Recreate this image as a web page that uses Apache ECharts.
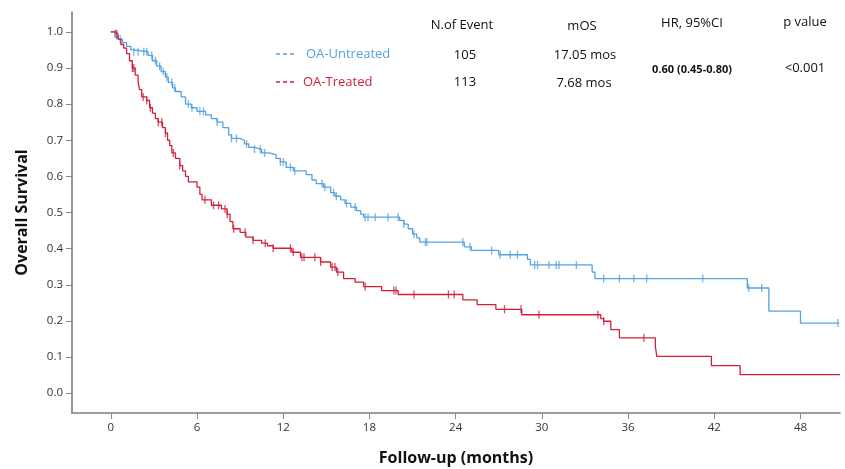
<!DOCTYPE html>
<html>
<head>
<meta charset="utf-8">
<script src="https://cdn.jsdelivr.net/npm/echarts@6/dist/echarts.min.js"></script>
<style>
  html, body { margin: 0; padding: 0; background: #fff; }
  #chart { width: 845px; height: 469px; }
</style>
</head>
<body>
<div id="chart"></div>
<script>
// KM step points [month, survival]
const untreatedSteps = [
  [0, 1.0], [0.3, 0.99], [0.5, 0.98], [0.8, 0.97], [1.1, 0.96], [1.4, 0.95], [1.6, 0.945],
  [2.6, 0.935], [2.9, 0.92], [3.2, 0.905], [3.5, 0.89], [3.8, 0.875], [4.0, 0.86], [4.3, 0.845],
  [4.5, 0.835], [4.9, 0.82], [5.2, 0.80], [5.6, 0.79], [6.0, 0.78], [6.6, 0.77], [7.0, 0.76],
  [7.4, 0.75], [7.8, 0.735], [8.2, 0.715], [8.4, 0.705], [9.0, 0.70], [9.3, 0.69], [9.6, 0.68],
  [10.0, 0.675], [10.5, 0.665], [11.0, 0.66], [11.5, 0.65], [11.8, 0.64], [12.2, 0.625],
  [12.7, 0.615], [13.6, 0.605], [14.0, 0.59], [14.3, 0.58], [14.8, 0.57], [15.3, 0.555],
  [15.6, 0.545], [16.0, 0.535], [16.3, 0.525], [16.7, 0.515], [17.1, 0.505], [17.4, 0.495],
  [17.6, 0.487], [20.1, 0.478], [20.4, 0.468], [20.7, 0.455], [21.0, 0.44], [21.3, 0.43],
  [21.5, 0.418], [24.6, 0.405], [25.1, 0.395], [27.0, 0.383], [29.0, 0.37], [29.2, 0.355],
  [33.5, 0.335], [33.7, 0.317], [44.3, 0.291], [45.8, 0.227], [48.0, 0.194], [50.7, 0.194]
]
const treatedSteps = [
  [0, 1.0], [0.3, 0.995], [0.5, 0.98], [0.7, 0.965], [0.9, 0.955], [1.1, 0.94], [1.3, 0.92],
  [1.5, 0.90], [1.7, 0.88], [1.9, 0.86], [2.0, 0.84], [2.15, 0.82], [2.5, 0.81], [2.7, 0.79],
  [2.9, 0.775], [3.1, 0.76], [3.3, 0.75], [3.6, 0.735], [3.8, 0.72], [3.95, 0.70], [4.1, 0.685],
  [4.25, 0.665], [4.5, 0.65], [4.8, 0.63], [5.0, 0.615], [5.2, 0.60], [5.4, 0.585], [6.0, 0.57],
  [6.2, 0.55], [6.35, 0.535], [7.0, 0.52], [7.7, 0.51], [8.1, 0.495], [8.3, 0.475], [8.5, 0.455],
  [9.0, 0.445], [9.4, 0.432], [9.9, 0.423], [10.5, 0.415], [10.9, 0.408], [11.3, 0.401],
  [12.6, 0.39], [13.2, 0.376], [14.6, 0.363], [15.3, 0.349], [15.7, 0.335], [16.2, 0.317],
  [17.0, 0.307], [17.6, 0.295], [18.85, 0.284], [20.0, 0.273], [24.5, 0.258], [25.5, 0.245],
  [26.8, 0.232], [28.6, 0.217], [34.1, 0.206], [34.3, 0.199], [34.8, 0.176], [35.4, 0.153],
  [37.9, 0.129], [38.0, 0.102], [41.8, 0.076], [43.8, 0.051], [50.75, 0.051]
]
// censored times (months)
const untreatedCensor = [0.4, 0.65, 1.6, 1.9, 2.3, 2.5, 2.85, 3.1, 3.4, 3.65, 3.9, 4.25, 4.45,
  5.4, 5.65, 6.2, 6.45, 7.4, 8.4, 8.75, 9.45, 10.0, 10.4, 10.7, 11.8, 12.0, 12.5, 12.8, 14.7,
  14.9, 15.5, 15.7, 16.4, 17.0, 17.7, 17.9, 18.4, 19.3, 20.0, 20.4, 21.1, 21.9, 22.0, 24.5,
  25.0, 26.5, 27.1, 27.8, 28.3, 29.5, 29.7, 30.5, 31.0, 31.2, 32.4, 34.3, 35.4, 36.4, 37.3,
  41.2, 44.4, 45.3, 50.6]
const treatedCensor = [0.3, 0.42, 1.5, 1.6, 2.25, 2.5, 2.75, 3.3, 3.55, 3.8, 4.35, 4.8, 6.55,
  7.15, 7.5, 7.95, 8.1, 8.55, 9.35, 9.9, 10.75, 11.3, 12.5, 12.7, 13.3, 13.45, 14.2, 14.6, 15.4,
  15.6, 15.8, 17.7, 19.7, 19.85, 21.1, 23.5, 23.9, 27.4, 28.55, 29.8, 33.9, 34.3, 37.1]

const xTicks = [0, 6, 12, 18, 24, 30, 36, 42, 48]
const yTicks = [0, 0.1, 0.2, 0.3, 0.4, 0.5, 0.6, 0.7, 0.8, 0.9, 1.0]

const BLUE = '#55a2e0'
const RED = '#d41f3a'
const FONT = 'Open Sans'

// survival value of the step curve at time t
function survAt(steps, t) {
  let v = steps[0][1]
  for (const p of steps) {
    if (p[0] <= t) v = p[1]
  }
  return v
}
const censorPts = (steps, times) => times.map(t => [t, survAt(steps, t)])

const txt = (x, y, text, extra) => ({
  type: 'text', x: x, y: y,
  style: Object.assign({ text: text, fill: '#111', font: '13px "Open Sans"', textAlign: 'center', textVerticalAlign: 'middle' }, extra || {})
})

const chart = echarts.init(document.getElementById('chart'))
const option = {
  animation: false,
  backgroundColor: '#fff',
  grid: { left: 72, right: 5, top: 12, bottom: 56, outerBoundsMode: 'none', containLabel: false },
  xAxis: {
    type: 'value',
    min: -2.7,
    max: 50.75,
    splitLine: { show: false },
    axisLine: { onZero: false, lineStyle: { color: '#7d7d7d', width: 1.6 } },
    axisTick: { customValues: xTicks, length: 6, lineStyle: { color: '#8a8a8a' } },
    axisLabel: { customValues: xTicks, margin: 9, color: '#333', fontSize: 11.5, fontFamily: FONT },
    name: 'Follow-up (months)',
    nameLocation: 'middle',
    nameGap: 37,
    nameTextStyle: { fontSize: 16, fontWeight: 'bold', color: '#111', fontFamily: FONT }
  },
  yAxis: {
    type: 'value',
    min: -0.055,
    max: 1.055,
    splitLine: { show: false },
    axisLine: { show: true, onZero: false, lineStyle: { color: '#7d7d7d', width: 1.6 } },
    axisTick: { show: true, customValues: yTicks, length: 6, lineStyle: { color: '#8a8a8a' } },
    axisLabel: {
      customValues: yTicks, margin: 9, color: '#333', fontSize: 11.5, fontFamily: FONT,
      formatter: v => v.toFixed(1)
    },
    name: 'Overall Survival',
    nameLocation: 'middle',
    nameGap: 42,
    nameTextStyle: { fontSize: 16, fontWeight: 'bold', color: '#111', fontFamily: FONT }
  },
  graphic: [
    { type: 'line', shape: { x1: 276, y1: 54, x2: 296, y2: 54 }, style: { stroke: BLUE, lineWidth: 1.3, lineDash: [4, 3] } },
    txt(306, 54, 'OA-Untreated', { fill: BLUE, textAlign: 'left' }),
    { type: 'line', shape: { x1: 276, y1: 82, x2: 296, y2: 82 }, style: { stroke: RED, lineWidth: 1.3, lineDash: [4, 3] } },
    txt(303, 82, 'OA-Treated', { fill: RED, textAlign: 'left' }),
    txt(462, 25, 'N.of Event'),
    txt(465, 55, '105'),
    txt(465, 82, '113'),
    txt(582, 26, 'mOS'),
    txt(585, 55, '17.05 mos'),
    txt(584, 83, '7.68 mos'),
    txt(692, 23, 'HR, 95%CI'),
    txt(692, 70, '0.60 (0.45-0.80)', { font: 'bold 11px "Open Sans"' }),
    txt(805, 22, 'p value'),
    txt(805, 68, '<0.001')
  ],
  series: [
    {
      name: 'OA-Untreated', type: 'line', step: 'end', showSymbol: false,
      lineStyle: { color: BLUE, width: 1.3 }, data: untreatedSteps
    },
    {
      name: 'OA-Treated', type: 'line', step: 'end', showSymbol: false,
      lineStyle: { color: RED, width: 1.3 }, data: treatedSteps
    },
    {
      name: 'Untreated censored', type: 'scatter', symbol: 'rect', symbolSize: [1.3, 8],
      itemStyle: { color: BLUE }, data: censorPts(untreatedSteps, untreatedCensor)
    },
    {
      name: 'Treated censored', type: 'scatter', symbol: 'rect', symbolSize: [1.3, 8],
      itemStyle: { color: RED }, data: censorPts(treatedSteps, treatedCensor)
    }
  ]
}
chart.setOption(option)
</script>
</body>
</html>
